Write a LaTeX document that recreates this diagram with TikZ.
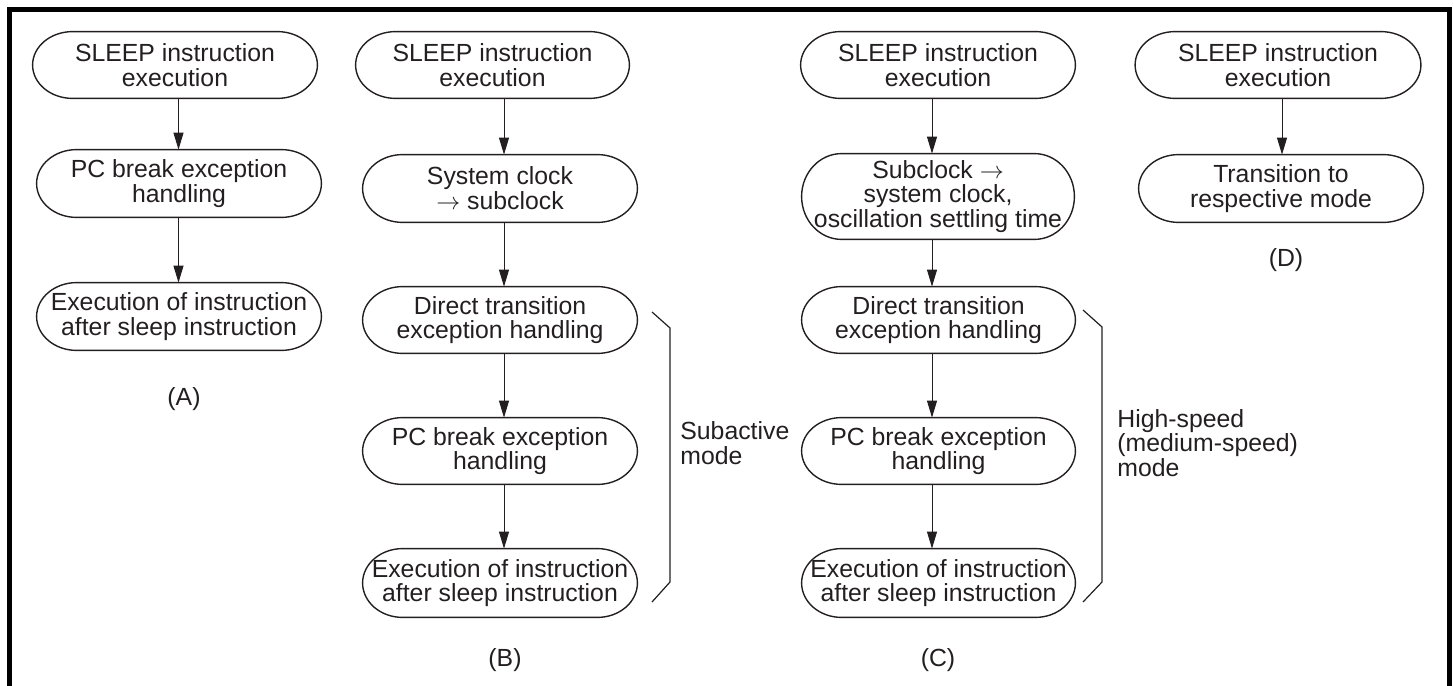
\documentclass[tikz,border=0pt]{standalone}
\usepackage{fontspec}
\setmainfont{Liberation Sans}
\usetikzlibrary{arrows.meta,calc}
\newlength\caprx
\setlength\caprx{20pt}
\newcommand\capsule[1]{%
  \draw[boxline] let \p1=(#1.north east), \p2=(#1.south west), \n1={0.5*(\y1-\y2)} in
    ([xshift=\caprx]#1.north west) -- ([xshift=-\caprx]#1.north east)
    arc[start angle=90, end angle=-90, x radius=\caprx, y radius=\n1]
    -- ([xshift=\caprx]#1.south west)
    arc[start angle=270, end angle=90, x radius=\caprx, y radius=\n1] -- cycle;}
\newcommand\rarr{\smash{$\rightarrow$}}
\definecolor{ink}{HTML}{231F20}
\begin{document}
\begin{tikzpicture}[x=0.5pt,y=-0.5pt,
  font=\fontsize{12.4pt}{12.4pt}\selectfont, text=ink,
  box/.style 2 args={minimum width=#1pt, minimum height=#2pt, inner sep=0pt, align=center},
  flow/.style={-{Triangle[length=8.5pt,width=5pt]}, line width=0.5pt, draw=ink},
  boxline/.style={line width=0.7pt, draw=ink},
  bracket/.style={line width=0.6pt, draw=ink},
  frame/.style={line width=2.2pt, draw=black},
  modelabel/.style={anchor=west, align=left, inner sep=0pt}]
\useasboundingbox (0,0) rectangle (1454,685);
\draw[frame] (9.5,700) -- (9.5,9.5) -- (1449.5,9.5) -- (1449.5,700);

% column A
\node[box={142}{33}] (a1) at (175,65) {SLEEP instruction\\execution};
\node[box={142}{33.5}] (a2) at (179,183.5) {PC break exception\\handling};
\node[box={142}{33.5}] (a3) at (179,316.5) {Execution of instruction\\after sleep instruction};
\node (la) at (184,399) {(A)};
\capsule{a1}\capsule{a2}\capsule{a3}
\coordinate (xa) at (178.5,0);
\draw[flow] (a1.south -| xa) -- (a2.north -| xa);
\draw[flow] (a2.south -| xa) -- (a3.north -| xa);

% column B
\node[box={136.5}{33}] (b1) at (492.5,65) {SLEEP instruction\\execution};
\node[box={137}{33.5}] (b2) at (500,188.5) {System clock\\\rarr{} subclock};
\node[box={137}{33}] (b3) at (500,320) {Direct transition\\exception handling};
\node[box={137}{33}] (b4) at (500,451) {PC break exception\\handling};
\node[box={137}{34}] (b5) at (500,583) {Execution of instruction\\after sleep instruction};
\node (lb) at (505,660) {(B)};
\capsule{b1}\capsule{b2}\capsule{b3}\capsule{b4}\capsule{b5}
\coordinate (xb) at (504,0);
\draw[flow] (b1.south -| xb) -- (b2.north -| xb);
\draw[flow] (b2.south -| xb) -- (b3.north -| xb);
\draw[flow] (b3.south -| xb) -- (b4.north -| xb);
\draw[flow] (b4.south -| xb) -- (b5.north -| xb);
\draw[bracket] (652,312) -- (670,328) -- (670,582) -- (652,602);
\node[modelabel] (sub) at (680,443) {Subactive\\mode};

% column C
\node[box={137}{33}] (c1) at (938,65) {SLEEP instruction\\execution};
\node[box={136}{42.5}] (c2) at (938,196.5) {Subclock \rarr\\system clock,\\oscillation settling time};
\node[box={136.5}{33}] (c3) at (938.5,320) {Direct transition\\exception handling};
\node[box={136.5}{33}] (c4) at (938.5,451) {PC break exception\\handling};
\node[box={136.5}{34}] (c5) at (938.5,583) {Execution of instruction\\after sleep instruction};
\node (lc) at (938,660) {(C)};
\capsule{c1}\capsule{c2}\capsule{c3}\capsule{c4}\capsule{c5}
\coordinate (xc) at (932,0);
\draw[flow] (c1.south -| xc) -- (c2.north -| xc);
\draw[flow] (c2.south -| xc) -- (c3.north -| xc);
\draw[flow] (c3.south -| xc) -- (c4.north -| xc);
\draw[flow] (c4.south -| xc) -- (c5.north -| xc);
\draw[bracket] (1083,310) -- (1102,327) -- (1102,582) -- (1083,602);
\node[modelabel] (high) at (1117,443) {High-speed\\(medium-speed)\\mode};

% column D
\node[box={142.5}{33}] (d1) at (1278,65) {SLEEP instruction\\execution};
\node[box={142}{33.5}] (d2) at (1281,188.5) {Transition to\\respective mode};
\node (ld) at (1286,260) {(D)};
\capsule{d1}\capsule{d2}
\coordinate (xd) at (1282,0);
\draw[flow] (d1.south -| xd) -- (d2.north -| xd);
\end{tikzpicture}
\end{document}
